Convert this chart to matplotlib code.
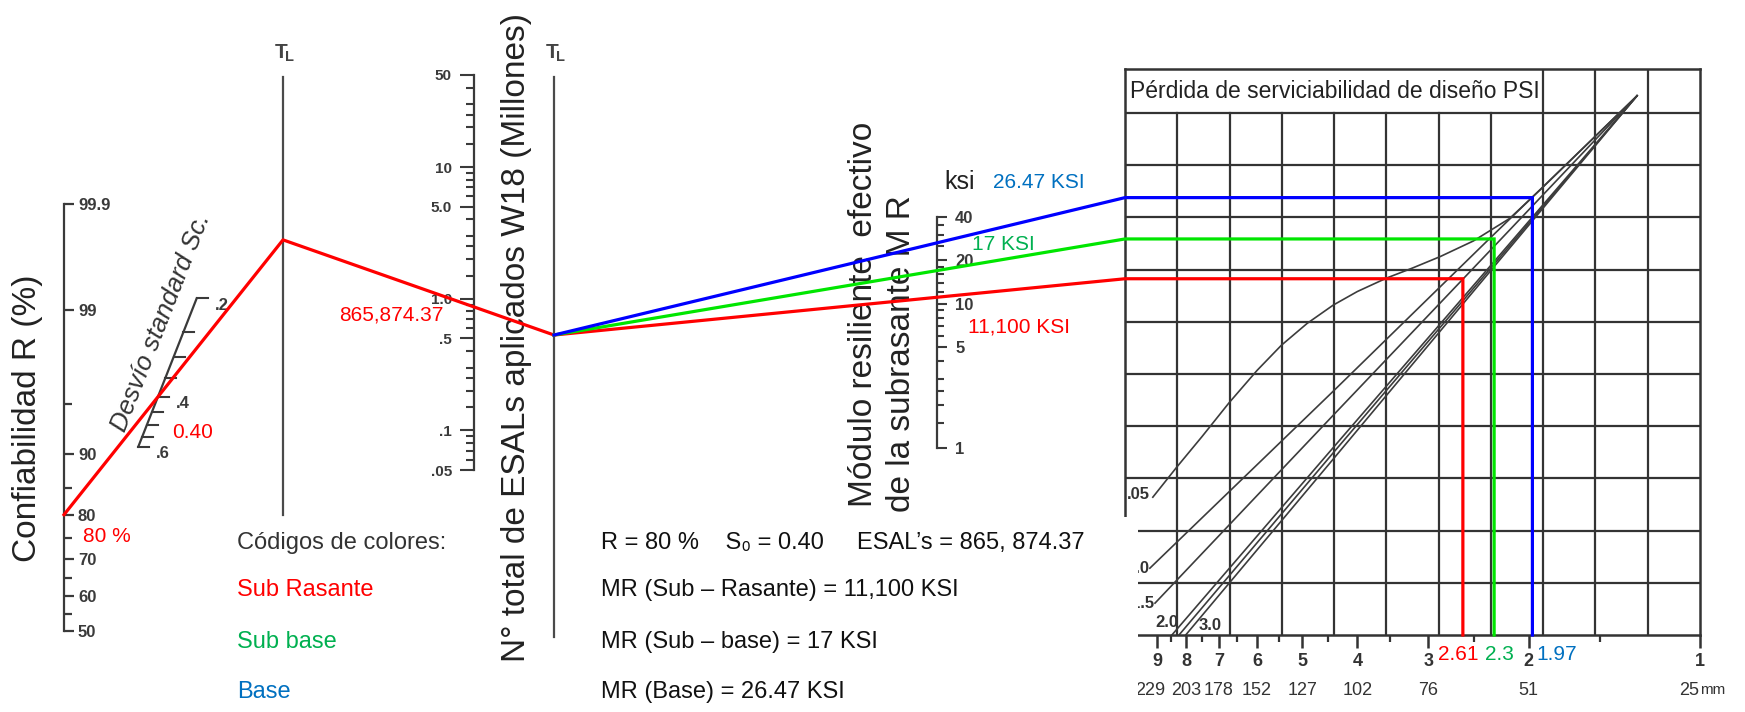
import numpy as np
import matplotlib
matplotlib.use("Agg")
import matplotlib.pyplot as plt
from matplotlib.ticker import FixedLocator, NullFormatter
from matplotlib.patches import Rectangle
from statistics import NormalDist

plt.rcParams['font.family'] = ['Liberation Sans', 'DejaVu Sans']

# ----------------------------- data -----------------------------
R_major = [50, 60, 70, 80, 90, 99, 99.9]
R_major_labels = ['50', '60', '70', '80', '90', '99', '99.9']
R_minor = [55, 65, 75, 85, 95]
R_design = 80

So_ticks = [0.20, 0.25, 0.30, 0.35, 0.40, 0.45, 0.50, 0.55, 0.60]
So_major = [0.2, 0.4, 0.6]
So_major_labels = ['.2', '.4', '.6']
So_design = 0.40

ESAL_major = [0.05, 0.1, 0.5, 1.0, 5.0, 10, 50]
ESAL_major_labels = ['.05', '.1', '.5', '1.0', '5.0', '10', '50']
ESAL_minor = [0.06, 0.07, 0.08, 0.09, 0.15, 0.2, 0.25, 0.3, 0.4, 0.6, 0.7, 0.8, 0.9,
              1.5, 2, 2.5, 3, 4, 6, 7, 8, 9, 15, 20, 25, 30, 40]
ESAL_design = 0.86587437  # millones

MR_major = [1, 5, 10, 20, 40]
MR_major_labels = ['1', '5', '10', '20', '40']
MR_minor = [1.5, 2, 2.5, 3, 4, 6, 7, 8, 9, 12, 14, 16, 18, 25, 30, 35]

layer_names = ['Sub Rasante', 'Sub base', 'Base']
layer_MR = [11.1, 17.0, 26.47]
layer_SN = [2.61, 2.30, 1.97]
layer_MR_text = ['11,100 KSI', '17 KSI', '26.47 KSI']
layer_SN_text = ['2.61', '2.3', '1.97']

SN_major = [1, 2, 3, 4, 5, 6, 7, 8, 9]
SN_major_labels = ['1', '2', '3', '4', '5', '6', '7', '8', '9']
SN_minor = [1.5, 2.5, 3.5, 4.5, 5.5, 6.5, 7.5, 8.5]
mm_labels = ['25', '51', '76', '102', '127', '152', '178', '203', '229']

# PSI loss curves: (SN, grid row)
psi_c1_sn = [1.29, 1.90, 2.16, 2.50, 2.86, 3.20, 3.55, 4.00, 4.41, 4.90, 5.44, 6.00, 6.72,
             7.50, 8.30, 9.15]
psi_c1_row = [10.33, 8.55, 7.98, 7.55, 7.25, 7.03, 6.84, 6.58, 6.32, 5.97, 5.55, 5.07, 4.45,
              3.80, 3.22, 2.64]
psi_c2_sn = [1.29, 2.34, 4.41, 9.26]
psi_c2_row = [10.33, 7.60, 4.67, 1.28]
psi_c3_sn = [1.29, 2.34, 4.41, 9.07]
psi_c3_row = [10.33, 7.36, 4.21, 0.61]
psi_c4_sn = [1.29, 2.34, 4.41, 8.47]
psi_c4_row = [10.33, 7.06, 3.59, 0.0]
psi_c5_sn = [1.29, 2.34, 4.41, 8.23]
psi_c5_row = [10.33, 7.01, 3.49, 0.0]
psi_c6_sn = [1.29, 2.34, 4.41, 8.01]
psi_c6_row = [10.33, 6.96, 3.37, 0.0]

# ----------------------------- layout -----------------------------
W, H = 1745, 712
RED, GREEN, BLUE = '#FF0000', '#00E600', '#0000FF'
T_GREEN, T_BLUE = '#00B050', '#0070C0'
INK = '#3a3a3a'

fig = plt.figure(figsize=(W / 100, H / 100), dpi=100)
fig.patch.set_facecolor('white')


def px_axes(x0, y0, x1, y1, **kw):
    return fig.add_axes([x0 / W, 1 - y1 / H, (x1 - x0) / W, (y1 - y0) / H], **kw)


def strip(a, keep):
    for s in ['left', 'right', 'top', 'bottom']:
        a.spines[s].set_visible(s in keep)
        a.spines[s].set_color(INK)
        a.spines[s].set_linewidth(1.6)
    a.patch.set_visible(False)


# --- R scale (normal probability) ---
_nd = NormalDist()


def r_fwd(r):
    r = np.asarray(r, float)
    out = np.array([_nd.inv_cdf(v / 100) if 0 < v < 100 else np.nan for v in r.ravel()])
    return out.reshape(r.shape)


def r_inv(z):
    z = np.asarray(z, float)
    out = np.array([_nd.cdf(v) * 100 for v in z.ravel()])
    return out.reshape(z.shape)


axR = px_axes(54, 204, 64, 631)
axR.set_yscale('function', functions=(r_fwd, r_inv))
axR.set_ylim(50, 99.9)
axR.set_xlim(0, 1)
strip(axR, ['right'])
axR.set_xticks([])
axR.yaxis.tick_right()
axR.yaxis.set_major_locator(FixedLocator(R_major))
axR.set_yticklabels(R_major_labels, fontweight='bold')
axR.yaxis.set_minor_locator(FixedLocator(R_minor))
axR.yaxis.set_minor_formatter(NullFormatter())
axR.tick_params(axis='y', which='major', direction='out', length=7, width=1.6,
                colors=INK, labelsize=12, pad=3)
axR.tick_params(axis='y', which='minor', direction='out', length=6, width=1.6, colors=INK)

# --- ESAL scale (log) ---
axE = px_axes(474, 75, 484, 470)
axE.set_yscale('log')
axE.set_ylim(0.05, 50)
axE.set_xlim(0, 1)
strip(axE, ['left'])
axE.set_xticks([])
axE.yaxis.set_major_locator(FixedLocator(ESAL_major))
axE.set_yticklabels(ESAL_major_labels, fontweight='bold')
axE.yaxis.set_minor_locator(FixedLocator(ESAL_minor))
axE.yaxis.set_minor_formatter(NullFormatter())
axE.tick_params(axis='y', which='major', direction='out', length=10, width=1.5,
                colors=INK, labelsize=11, pad=6)
axE.tick_params(axis='y', which='minor', direction='out', length=6, width=1.5, colors=INK)

# --- MR scale (log) ---
axM = px_axes(927, 217, 937, 448)
axM.set_yscale('log')
axM.set_ylim(1, 40)
axM.set_xlim(0, 1)
strip(axM, ['right'])
axM.set_xticks([])
axM.yaxis.tick_right()
axM.yaxis.set_major_locator(FixedLocator(MR_major))
axM.set_yticklabels(MR_major_labels, fontweight='bold')
axM.yaxis.set_minor_locator(FixedLocator(MR_minor))
axM.yaxis.set_minor_formatter(NullFormatter())
axM.tick_params(axis='y', which='major', direction='out', length=7, width=1.5,
                colors=INK, labelsize=12, pad=6)
axM.tick_params(axis='y', which='minor', direction='out', length=5, width=1.5, colors=INK)

# --- design chart (SN log axis, rows of grid) ---
SN_left, SN_right = 10.24, 1.0
ROW_TOP = 10.843
axC = px_axes(1125, 69, 1700, 635)
axC.set_xscale('log')
axC.set_xlim(SN_left, SN_right)
axC.set_ylim(0, ROW_TOP)
strip(axC, ['left', 'right', 'top', 'bottom'])
for s in axC.spines.values():
    s.set_linewidth(1.8)
    s.set_color('#333333')
axC.set_yticks([])
axC.xaxis.set_major_locator(FixedLocator(SN_major))
axC.set_xticklabels(SN_major_labels, fontweight='bold')
axC.xaxis.set_minor_locator(FixedLocator(SN_minor))
axC.xaxis.set_minor_formatter(NullFormatter())
axC.tick_params(axis='x', which='major', direction='out', length=9, width=1.8,
                colors='#333333', labelsize=13, pad=4)
axC.tick_params(axis='x', which='minor', direction='out', length=5, width=1.6, colors='#333333')

cols = np.geomspace(SN_left, SN_right, 12)
for k, c in enumerate(cols[1:-1], start=1):
    axC.plot([c, c], [0, 10 if k < 8 else ROW_TOP], color='#333333', lw=1.6, zorder=1)
for r in range(1, 11):
    axC.axhline(r, color='#333333', lw=1.6, zorder=1)

curve_sets = [(psi_c1_sn, psi_c1_row), (psi_c2_sn, psi_c2_row), (psi_c3_sn, psi_c3_row),
              (psi_c4_sn, psi_c4_row), (psi_c5_sn, psi_c5_row), (psi_c6_sn, psi_c6_row)]
for sn, row in curve_sets:
    axC.plot(sn, row, color='#3c3c3c', lw=1.2, zorder=2)

lab_kw = dict(fontsize=12, fontweight='bold', color='#333333', va='center')
axC.text(psi_c1_sn[-1] * 1.11, psi_c1_row[-1] + 0.05, '.05', ha='left', **lab_kw)
axC.text(psi_c2_sn[-1] * 1.005, psi_c2_row[-1], '1.0', ha='right', **lab_kw)
axC.text(psi_c3_sn[-1] * 1.005, psi_c3_row[-1], '1.5', ha='right', **lab_kw)
axC.text(psi_c4_sn[-1] * 1.02, 0.23, '2.0', ha='center', **lab_kw)
axC.text(psi_c6_sn[-1] * 0.95, 0.19, '3.0', ha='left', **lab_kw)

mm_kw = dict(fontsize=13, color='#333333', ha='center', va='center',
             transform=axC.get_xaxis_transform())
for sn, lab in zip(SN_major, mm_labels):
    if sn == 1:
        axC.text(sn * 1.005, -0.098, lab, **{**mm_kw, 'ha': 'right'})
        axC.text(sn * 0.998, -0.098, 'mm', fontsize=11, color='#333333', ha='left',
                 va='center', transform=axC.get_xaxis_transform())
    elif sn == 9:
        axC.text(sn * 1.028, -0.098, lab, **mm_kw)
    else:
        axC.text(sn, -0.098, lab, **mm_kw)

# --- overlay axes in pixel coordinates ---
ax = fig.add_axes([0, 0, 1, 1], zorder=5)
ax.set_xlim(0, W)
ax.set_ylim(H, 0)
ax.axis('off')
ax.patch.set_visible(False)


def to_over(a, x, y):
    return ax.transData.inverted().transform(a.transData.transform((x, y)))


def at_x(p, q, x):
    t = (x - p[0]) / (q[0] - p[0])
    return np.array([x, p[1] + t * (q[1] - p[1])])


# pivot (turning) lines
TL1_X, TL2_X = 283, 554
ax.plot([TL1_X, TL1_X], [77, 515], color='#4a4a4a', lw=1.6)
ax.plot([TL2_X, TL2_X], [77, 637], color='#4a4a4a', lw=1.6)
for x0 in (TL1_X, TL2_X):
    ax.text(x0 + 2, 53, r'T$_{\!\mathregular{L}}$', fontsize=15, fontweight='bold',
            color='#444444', ha='center', va='center')

# So scale (slanted)
So_top = np.array([196.7, 298.3])
So_bot = np.array([138.3, 446.7])
So_t = [0.0, 0.228, 0.396, 0.537, 0.664, 0.765, 0.852, 0.933, 1.0]


def so_pt(v):
    t = np.interp(v, So_ticks, So_t)
    return So_top + t * (So_bot - So_top)


ax.plot([So_top[0], So_bot[0]], [So_top[1], So_bot[1]], color=INK, lw=1.6)
for v in So_ticks:
    p = so_pt(v)
    ax.plot([p[0], p[0] + 11], [p[1], p[1]], color=INK, lw=1.5)
for v, lab in zip(So_major, So_major_labels):
    p = so_pt(v)
    ax.text(p[0] + 25, p[1] + 7, lab, fontsize=12, fontweight='bold', color=INK,
            ha='center', va='center')

# design path
pR = to_over(axR, 1, R_design)
pS = so_pt(So_design)
pv1 = at_x(pR, pS, TL1_X)
pE = to_over(axE, 0, ESAL_design)
pv2 = at_x(pv1, pE, TL2_X)
box_l = to_over(axC, SN_left, 0)[0]
box_b = to_over(axC, SN_left, 0)[1]

ax.plot([pR[0], pv1[0], pv2[0]], [pR[1], pv1[1], pv2[1]], color=RED, lw=2.3, zorder=6)
for mr, sn, colr in zip(layer_MR, layer_SN, [RED, GREEN, BLUE]):
    pM = to_over(axM, 1, mr)
    pe = at_x(pv2, pM, box_l)
    xs = to_over(axC, sn, 0)[0]
    ax.plot([pv2[0], pe[0], xs, xs], [pv2[1], pe[1], pe[1], box_b], color=colr, lw=2.3,
            zorder=6, solid_joinstyle='miter')

# white scan patch at lower-left of the design chart
ax.add_patch(Rectangle((1095, 517), 43, 195, facecolor='white', edgecolor='none', zorder=2))

# ----------------------------- texts -----------------------------
ax.text(28, 418, 'Confiabilidad R (%)', rotation=90, fontsize=24, color='#222222',
        ha='center', va='center')
ax.text(161, 322, 'Desvío standard Sc.', rotation=68.5, fontsize=18.5, style='italic',
        color='#333333', ha='center', va='center', rotation_mode='anchor')
ax.text(193, 433, '0.40', fontsize=15, color=RED, ha='center', va='center')
ax.text(83, 536, '80 %', fontsize=15, color=RED, ha='left', va='center')
ax.text(391, 315, '865,874.37', fontsize=15, color=RED, ha='center', va='center')

ax.text(517, 338, 'N° total de ESALs aplicados W18 (Millones)', rotation=90, fontsize=24,
        color='#222222', ha='center', va='center')
ax.text(864, 507, 'Módulo resiliente  efectivo', rotation=90, fontsize=24, color='#222222',
        ha='left', va='center', rotation_mode='anchor')
ax.text(902, 512, 'de la subrasante M R', rotation=90, fontsize=24, color='#222222',
        ha='left', va='center', rotation_mode='anchor')
ax.text(960, 182, 'ksi', fontsize=18, color='#222222', ha='center', va='center')

ax.text(993, 182, layer_MR_text[2], fontsize=15, color=T_BLUE, ha='left', va='center')
ax.text(972, 245, layer_MR_text[1], fontsize=15, color=T_GREEN, ha='left', va='center')
ax.text(968, 327, layer_MR_text[0], fontsize=15, color=RED, ha='left', va='center')

ax.text(1130, 91, 'Pérdida de serviciabilidad de diseño PSI', fontsize=16.5, color='#222222',
        ha='left', va='center')

# SN result labels
sn_off = [-5, 5, 24]
for sn, txt, colr, off in zip(layer_SN, layer_SN_text, [RED, T_GREEN, T_BLUE], sn_off):
    xs = to_over(axC, sn, 0)[0]
    ax.text(xs + off, 655, txt, fontsize=15, color=colr, ha='center', va='center')

# legend / summary
ax.text(237, 543, 'Códigos de colores:', fontsize=17, color='#333333', ha='left', va='center')
for name, colr, y in zip(layer_names, [RED, T_GREEN, T_BLUE], [590, 642, 692]):
    ax.text(237, y, name, fontsize=17, color=colr, ha='left', va='center')

summary = [f'R = {R_design} %    S₀ = {So_design:.2f}     ESAL’s = 865, 874.37',
           f'MR (Sub – Rasante) = {layer_MR_text[0]}',
           f'MR (Sub – base) = {layer_MR_text[1]}',
           f'MR (Base) = {layer_MR_text[2]}']
for txt, y in zip(summary, [543, 590, 642, 692]):
    ax.text(601, y, txt, fontsize=17, color='#111111', ha='left', va='center')

fig.savefig('out.png', dpi=100, facecolor='white')
